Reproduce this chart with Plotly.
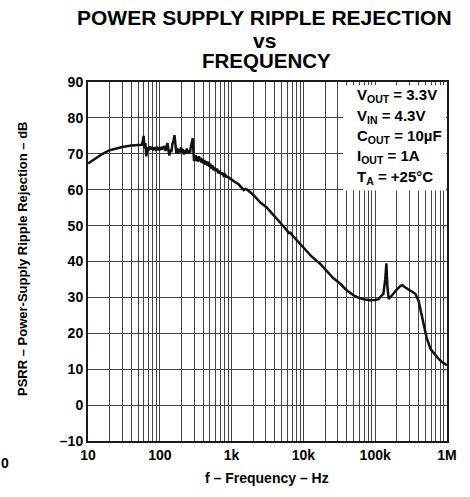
import plotly.graph_objects as go

# ---- data ----
freq_hz = [10, 13, 16, 20, 25, 30, 40, 50, 56,
           58, 59.5, 61, 63, 65, 67, 69, 72, 75, 78, 81, 84, 88, 92, 96, 100, 104, 108, 112,
           116, 120, 124, 128, 132, 136, 140, 145, 150, 155, 160, 165, 170, 175, 180, 186,
           192, 198, 204, 210, 217, 224, 231, 238, 246, 254, 262, 270, 280, 288, 294, 300,
           306, 312, 318, 325, 333, 341, 350, 360, 370, 380, 392, 405, 418, 430, 445, 460,
           475, 490, 505, 520, 540, 560, 580, 600, 625, 650, 680, 710, 740, 775, 810, 850,
           900, 950, 1000, 1100, 1250, 1400, 1480, 1560, 1650,
           2000, 2500, 3100, 3600, 4500, 5500, 6300, 6600, 7000, 8000, 10000, 13000, 17200,
           22000, 26000, 32600, 40000, 50000, 60000, 72800, 85000, 100000, 111000, 120000,
           130000, 138000, 143000, 148000, 154000, 165000, 180000, 200000, 225000, 240000,
           260000, 292000, 330000, 362000, 402000, 440000, 472000, 520000, 590000, 687000,
           770000, 851000, 930000, 1000000]
psrr_db = [67.3, 68.8, 70.0, 71.0, 71.6, 71.9, 72.3, 72.4, 72.5,
           73.5, 75.0, 71.5, 73.0, 69.3, 71.8, 70.8, 72.0, 71.2, 71.9, 71.0, 71.8, 71.2, 71.9, 71.0, 71.6, 71.1, 72.0, 71.3,
           72.2, 70.8, 72.0, 73.0, 71.0, 69.5, 71.2, 70.5, 72.8, 73.5, 75.2, 72.0, 70.2, 71.6, 70.0, 71.2,
           70.4, 71.8, 70.2, 71.3, 69.8, 71.0, 70.0, 71.5, 70.2, 71.0, 70.0, 71.8, 73.5, 74.3, 70.5, 68.0,
           69.5, 68.2, 69.6, 68.0, 69.0, 67.8, 69.3, 68.0, 68.9, 67.6, 68.6, 67.3, 68.3, 67.0, 67.9, 66.7,
           67.8, 66.4, 67.2, 65.9, 66.8, 65.4, 66.2, 65.2, 65.9, 64.6, 65.3, 64.3, 64.8, 63.9, 64.2, 63.6,
           63.5, 63.1, 62.9, 62.2, 61.5, 60.6, 59.9, 60.2, 60.0,
           58.6, 56.5, 55.0, 53.6, 51.4, 49.4, 47.9, 48.0, 47.3, 46.0, 43.8, 41.4, 39.3,
           37.0, 35.4, 33.8, 32.0, 30.6, 29.8, 29.4, 29.2, 29.3, 29.5, 30.3,
           31.0, 35.0, 39.5, 33.0, 29.6, 30.2, 31.2, 32.2, 33.2, 33.4,
           32.8, 32.2, 31.6, 31.0, 29.0, 25.5, 22.5, 18.8, 15.6, 13.8,
           12.8, 12.0, 11.5, 11.1]

x_decades = [10, 100, 1000, 10000, 100000, 1000000]
x_decade_labels = ["10", "100", "1k", "10k", "100k", "1M"]
y_ticks = [-10, 0, 10, 20, 30, 40, 50, 60, 70, 80, 90]
y_tick_labels = ["\u201310", "0", "10", "20", "30", "40", "50", "60", "70", "80", "90"]

title_lines = ["POWER SUPPLY RIPPLE REJECTION", "vs", "FREQUENCY"]
conditions = ["V<sub>OUT</sub> = 3.3V", "V<sub>IN</sub> = 4.3V", "C<sub>OUT</sub> = 10\u00b5F",
              "I<sub>OUT</sub> = 1A", "T<sub>A</sub> = +25\u00b0C"]

# all log-grid positions (1..9 per decade)
x_tickvals, x_ticktext = [], []
for d, lab in zip(x_decades[:-1], x_decade_labels[:-1]):
    for m in range(1, 10):
        x_tickvals.append(d * m)
        x_ticktext.append(lab if m == 1 else "")
x_tickvals.append(x_decades[-1])
x_ticktext.append(x_decade_labels[-1])

FONT = "Liberation Sans, Arial, Helvetica, sans-serif"

fig = go.Figure()
fig.add_trace(go.Scatter(x=freq_hz, y=psrr_db, mode="lines",
                         line=dict(color="#111111", width=2.5), showlegend=False,
                         hoverinfo="skip"))

# plot geometry (pixels) for placing text
L, R, T, B = 88, 447, 82, 441
W, H = R - L, B - T
def px(x): return (x - L) / W
def py(y): return (B - y) / H

# white condition box
fig.add_shape(type="rect", xref="paper", yref="paper",
              x0=px(343), x1=px(446), y0=py(190.5), y1=py(85),
              fillcolor="white", line=dict(width=0), layer="above")

# title
title_y = [17.5, 40.5, 60.5]
title_x = [264, 264, 266.5]
title_size = [21, 21, 20.5]
for t, yy, xx, s in zip(title_lines, title_y, title_x, title_size):
    fig.add_annotation(text=f"<b>{t}</b>", xref="paper", yref="paper",
                       x=px(xx), y=py(yy), xanchor="center", yanchor="middle",
                       showarrow=False, font=dict(size=s, color="black", family=FONT))

cond_y = [95.8, 116.3, 136.3, 156.5, 177]
for t, yy in zip(conditions, cond_y):
    fig.add_annotation(text=f"<b>{t}</b>", xref="paper", yref="paper",
                       x=px(355), y=py(yy), xanchor="left", yanchor="middle",
                       showarrow=False, font=dict(size=15, color="black", family=FONT))

# axis titles
fig.add_annotation(text="<b>PSRR \u2013 Power-Supply Ripple Rejection \u2013 dB</b>",
                   xref="paper", yref="paper", x=px(22), y=py(259), textangle=-90,
                   xanchor="center", yanchor="middle", showarrow=False,
                   font=dict(size=13, color="black", family=FONT))
fig.add_annotation(text="<b>f \u2013 Frequency \u2013 Hz</b>",
                   xref="paper", yref="paper", x=px(266.5), y=py(478),
                   xanchor="center", yanchor="middle", showarrow=False,
                   font=dict(size=14, color="black", family=FONT))
# stray glyph at lower-left edge of the reference
fig.add_annotation(text="<b>0</b>", xref="paper", yref="paper", x=px(-1), y=py(463),
                   xanchor="left", yanchor="middle", showarrow=False,
                   font=dict(size=14, color="black", family=FONT))

fig.update_xaxes(type="log", range=[1, 6], tickvals=x_tickvals,
                 ticktext=[f"<b>{t}</b>" if t else "" for t in x_ticktext],
                 showgrid=True, gridcolor="#444444", gridwidth=1,
                 showline=True, linecolor="#1a1a1a", linewidth=2, mirror=True,
                 ticks="", zeroline=False, automargin=False,
                 tickfont=dict(size=14, color="black", family=FONT))
fig.update_yaxes(range=[-10, 90], tickvals=y_ticks, ticktext=[f"<b>{t}</b>" for t in y_tick_labels],
                 showgrid=True, gridcolor="#444444", gridwidth=1,
                 showline=True, linecolor="#1a1a1a", linewidth=2, mirror=True,
                 ticks="", zeroline=False, automargin=False,
                 tickfont=dict(size=14, color="black", family=FONT))

fig.update_layout(width=470, height=497, autosize=False,
                  margin=dict(l=L, r=470 - R, t=T, b=497 - B, pad=0),
                  paper_bgcolor="white", plot_bgcolor="white",
                  showlegend=False)

fig.write_html("out.html", config={"displayModeBar": False},
               post_script="document.body.style.margin='0';document.body.style.overflow='hidden';")
